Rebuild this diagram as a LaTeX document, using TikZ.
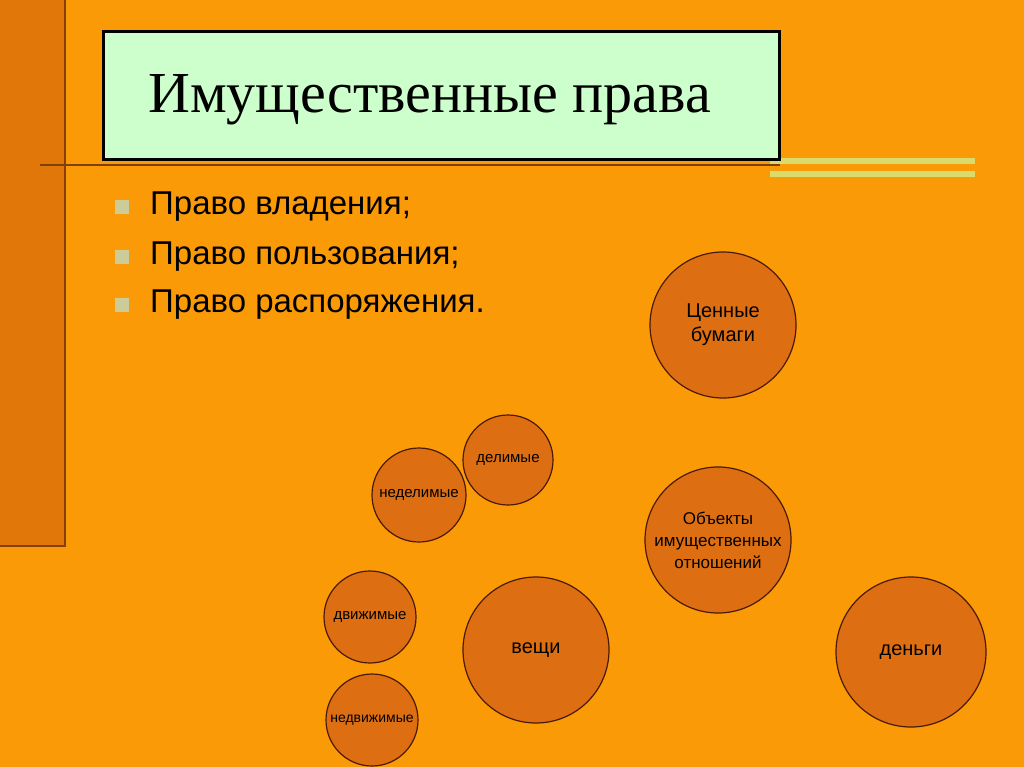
\documentclass[tikz,border=0pt]{standalone}
\usepackage{fontspec}
\setmainfont{Liberation Serif}
\newfontfamily\arial{Liberation Sans}
\pgfdeclarelayer{bgl}
\pgfsetlayers{bgl,main}
\begin{document}
\begin{tikzpicture}[x=1pt,y=-1pt,
  circ/.style={circle,draw=linkc,fill=circfill,line width=1.2pt,inner sep=0pt,align=center,text=black},
  thick link/.style={line width=5pt,draw=linkc},
  thin link/.style={line width=3pt,draw=linkc}]
\definecolor{bg}{HTML}{FB9A07}
\definecolor{strip}{HTML}{E17708}
\definecolor{circfill}{HTML}{DD6F12}
\definecolor{linkc}{HTML}{4A1A08}
\definecolor{titlefill}{HTML}{CCFFCC}
\definecolor{bul}{HTML}{CCCC99}
\useasboundingbox (0,0) rectangle (1024,767);
\fill[bg] (0,0) rectangle (1024,767);
\fill[strip] (0,0) rectangle (65,546);
\draw[line width=2pt,draw=linkc!60!strip] (65,0) -- (65,546) -- (0,546);
\draw[line width=1.2pt,draw=linkc!70!bg] (40,165) -- (780,165);
\fill[bul!70!yellow] (770,158) rectangle (975,164);
\fill[bul!70!yellow] (770,171) rectangle (975,177);
\node[draw=black,line width=3pt,fill=titlefill,minimum width=676pt,minimum height=128pt,anchor=north west] (title) at (102,30) {};
\node[anchor=west,inner sep=0pt,font=\fontsize{58}{64}\selectfont] (tt) at (148,100) {Имущественные права};
\foreach \y/\t in {207/{Право владения;},257/{Право пользования;},305/{Право распоряжения.}}{
  \fill[bul] (115,\y-7) rectangle (129,\y+7);
  \node[anchor=west,font=\arial\fontsize{33}{38}\selectfont,inner sep=0pt] at (150,\y) {\t};
}
\node[circ,minimum size=146pt,font=\arial\fontsize{20}{24}\selectfont] (cb) at (723,325) {Ценные\\бумаги};
\node[circ,minimum size=146pt,font=\arial\fontsize{17}{22}\selectfont] (ob) at (718,540) {Объекты\\имущественных\\отношений};
\node[circ,minimum size=150pt,font=\arial\fontsize{20}{24}\selectfont] (dn) at (911,652) {деньги};
\node[circ,minimum size=146pt,font=\arial\fontsize{20}{24}\selectfont] (ve) at (536,650) {вещи};
\node[circ,minimum size=90pt,font=\arial\fontsize{15}{18}\selectfont] (de) at (508,460) {делимые};
\node[circ,minimum size=94pt,font=\arial\fontsize{15}{18}\selectfont] (nd) at (419,495) {неделимые};
\node[circ,minimum size=92pt,font=\arial\fontsize{15}{18}\selectfont] (dv) at (370,617) {движимые};
\node[circ,minimum size=92pt,font=\arial\fontsize{14}{18}\selectfont] (ndv) at (372,720) {недвижимые};
\begin{pgfonlayer}{bgl}
\draw[thick link] (cb.center) -- (ob.center);
\draw[thick link] (ob.center) -- (dn.center);
\draw[thick link] (ob.center) -- (ve.center);
\draw[thin link] (ve.center) -- (de.center);
\draw[thin link] (ve.center) -- (nd.center);
\draw[thin link] (ve.center) -- (dv.center);
\draw[thin link] (ve.center) -- (ndv.center);
\end{pgfonlayer}
\end{tikzpicture}
\end{document}
